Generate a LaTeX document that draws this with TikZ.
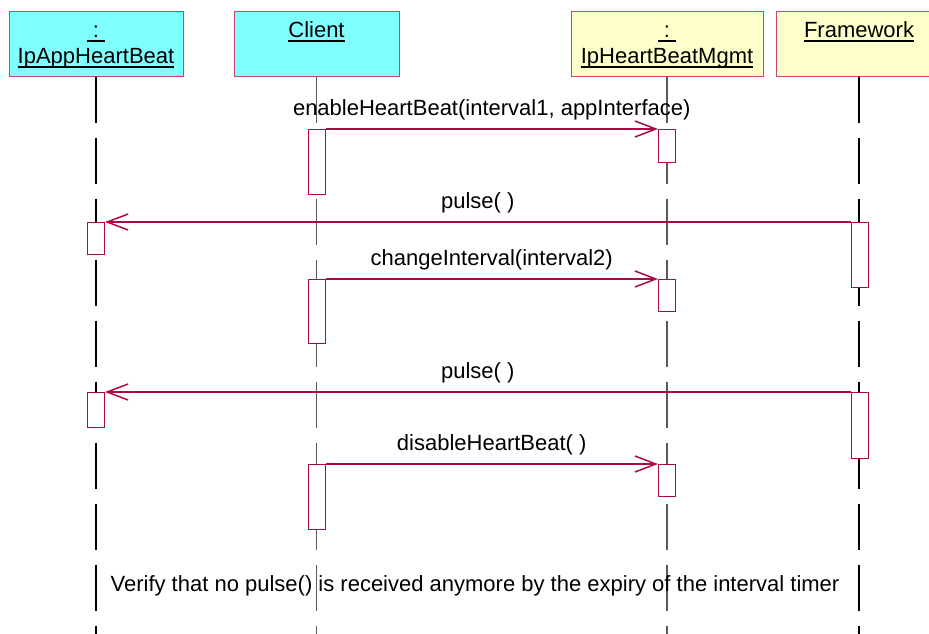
\documentclass[tikz,border=0pt]{standalone}
\usepackage{fontspec}
\setmainfont{Liberation Sans}
\usetikzlibrary{arrows.meta,calc}
\definecolor{crim}{RGB}{170,10,70}
\definecolor{hdrborder}{RGB}{200,70,110}
\definecolor{cyanfill}{RGB}{128,255,255}
\definecolor{yelfill}{RGB}{255,255,204}
\definecolor{lifegray}{RGB}{90,90,90}
\newcommand\myul[1]{\leavevmode\setbox0\hbox{#1}\rlap{\rule[-4.5pt]{\wd0}{1.2pt}}\box0}
\begin{document}
\begin{tikzpicture}[x=1pt,y=-1pt,
  lbl/.style={font=\fontsize{22}{26}\selectfont, inner sep=0pt},
  hdr/.style={draw=hdrborder, line width=1pt, inner sep=0pt, minimum height=65pt},
  hdrC/.style={hdr, fill=cyanfill},
  hdrY/.style={hdr, fill=yelfill},
  life/.style={line width=1.2pt, dash pattern=on 46pt off 15pt},
  act/.style={draw=crim, fill=white, line width=1pt, minimum width=17pt, inner sep=0pt, anchor=north},
  msg/.style={draw=crim, line width=1.1pt, -{Straight Barb[length=21pt,width=16pt,line width=1.5pt]}},
]
\useasboundingbox[fill=white] (0,0) rectangle (929,633);
\clip (0,0) rectangle (929,633);
% headers
\node[hdrC, minimum width=174pt] (appbox) at (96,43.5) {};
\node[hdrC, minimum width=165pt] (clibox) at (316.5,43.5) {};
\node[hdrY, minimum width=192pt] (mgmtbox) at (667,43.5) {};
\node[hdrY, minimum width=166pt] (fwbox) at (859,43.5) {};
\node[lbl, anchor=base] (apptxt1) at (96,37) {\myul{\ :\ }};
\node[lbl, anchor=base] (apptxt2) at (96,63) {\myul{IpAppHeartBeat}};
\node[lbl, anchor=base] (clitxt) at (316.5,37) {\myul{Client}};
\node[lbl, anchor=base] (mgmttxt1) at (667,37) {\myul{\ :\ }};
\node[lbl, anchor=base] (mgmttxt2) at (667,63) {\myul{IpHeartBeatMgmt}};
\node[lbl, anchor=base] (fwtxt) at (859,37) {\myul{Framework}};
% lifeline ends
\coordinate (appE) at (96,640);
\coordinate (cliE) at (316.5,640);
\coordinate (mgmtE) at (667,640);
\coordinate (fwE) at (859,640);
\draw[life, black] (appbox.south) -- (appE);
\draw[life, lifegray] (clibox.south) -- (cliE);
\draw[life, lifegray] (mgmtbox.south) -- (mgmtE);
\draw[life, black] (fwbox.south) -- (fwE);
% activations
\node[act, minimum height=65pt] (ca1) at (316.5,129) {};
\node[act, minimum height=33pt] (ma1) at (667,129) {};
\node[act, minimum height=32pt] (ia1) at (96,222) {};
\node[act, minimum height=65pt] (fa1) at (859.5,222) {};
\node[act, minimum height=64pt] (ca2) at (316.5,279) {};
\node[act, minimum height=32pt] (ma2) at (667,279) {};
\node[act, minimum height=35pt] (ia2) at (96,392) {};
\node[act, minimum height=66pt] (fa2) at (859.5,392) {};
\node[act, minimum height=65pt] (ca3) at (316.5,464) {};
\node[act, minimum height=32pt] (ma3) at (667,464) {};
% messages
\draw[msg] (ca1.north east) -- (ma1.north west)
  node[lbl, midway, anchor=base, yshift=13.5pt, text=black] (m1) {enableHeartBeat(interval1, appInterface)};
\draw[msg] (fa1.north west) -- (ia1.north east)
  node[lbl, midway, anchor=base, yshift=13.5pt, text=black] (m2) {pulse( )};
\draw[msg] (ca2.north east) -- (ma2.north west)
  node[lbl, midway, anchor=base, yshift=13.5pt, text=black] (m3) {changeInterval(interval2)};
\draw[msg] (fa2.north west) -- (ia2.north east)
  node[lbl, midway, anchor=base, yshift=13.5pt, text=black] (m4) {pulse( )};
\draw[msg] (ca3.north east) -- (ma3.north west)
  node[lbl, midway, anchor=base, yshift=13.5pt, text=black] (m5) {disableHeartBeat( )};
% note
\node[lbl, anchor=base] (note) at (475,591) {Verify that no pulse() is received anymore by the expiry of the interval timer};
\end{tikzpicture}
\end{document}
